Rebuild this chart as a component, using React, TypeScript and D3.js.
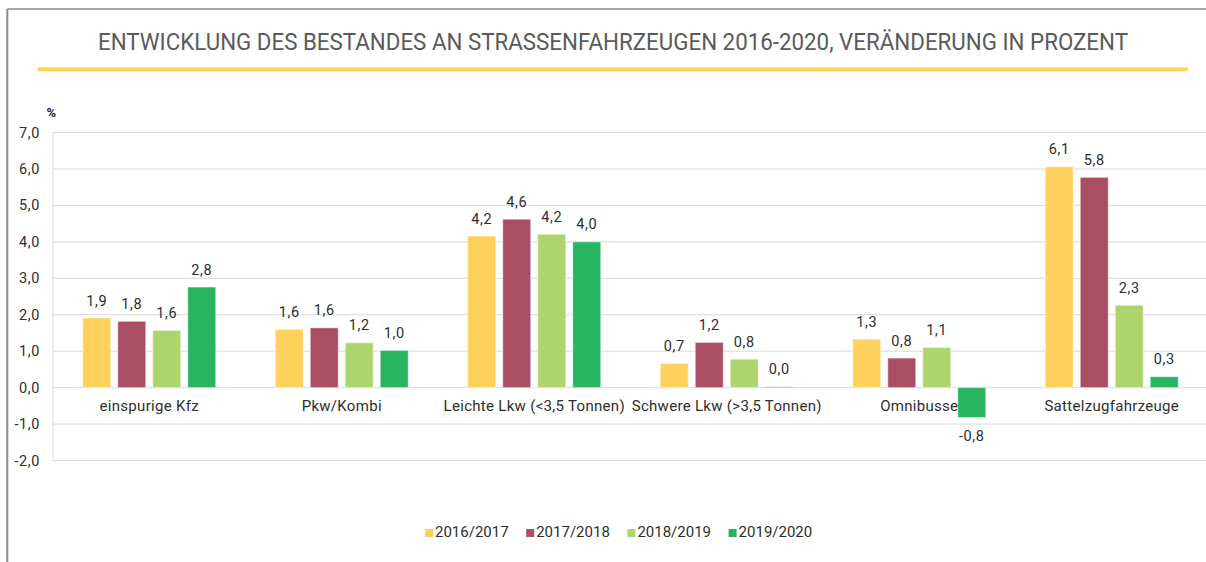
import React from "react";
import * as d3 from "d3";

const categories = [
  "einspurige Kfz",
  "Pkw/Kombi",
  "Leichte Lkw (<3,5 Tonnen)",
  "Schwere Lkw (>3,5 Tonnen)",
  "Omnibusse",
  "Sattelzugfahrzeuge",
];
const seriesNames = ["2016/2017", "2017/2018", "2018/2019", "2019/2020"];
const s2016_2017 = [1.91, 1.6, 4.16, 0.66, 1.33, 6.06];
const s2017_2018 = [1.82, 1.64, 4.62, 1.24, 0.81, 5.77];
const s2018_2019 = [1.57, 1.23, 4.21, 0.78, 1.1, 2.26];
const s2019_2020 = [2.76, 1.02, 4.0, 0.02, -0.82, 0.3];
const seriesValues = [s2016_2017, s2017_2018, s2018_2019, s2019_2020];
const colors = ["#FFD15C", "#A94E64", "#AED46D", "#28B460"];
const yTicks = [-2, -1, 0, 1, 2, 3, 4, 5, 6, 7];
const title =
  "ENTWICKLUNG DES BESTANDES AN STRASSENFAHRZEUGEN 2016-2020, VERÄNDERUNG IN PROZENT";

const W = 1206;
const H = 562;
const FONT = "Roboto, 'Liberation Sans', Arial, sans-serif";

const fmt = (v: number) => v.toFixed(1).replace(".", ",");

export default function App() {
  const x0 = d3.scaleBand<string>().domain(categories).range([53, 1208]).padding(0);
  const x1 = d3
    .scaleBand<string>()
    .domain(seriesNames)
    .range([(x0.bandwidth() - 140) / 2, (x0.bandwidth() + 140) / 2])
    .paddingInner(0.2)
    .paddingOuter(0.1);
  const y = d3.scaleLinear().domain([-2, 7]).range([460.5, 132.5]);

  return (
    <svg
      width={W}
      height={H}
      style={{ position: "absolute", left: 0, top: 0, background: "#fff" }}
      fontFamily={FONT}
    >
      <rect x={0} y={0} width={W} height={H} fill="#fff" />
      {/* frame */}
      <line x1={7.3} x2={W} y1={9} y2={9} stroke="#8a8a8a" strokeWidth={1.5} />
      <line x1={7.3} x2={7.3} y1={9} y2={H} stroke="#8a8a8a" strokeWidth={2} />

      {/* title */}
      <g transform="translate(613,49.5) scale(1,1.15)">
        <text
          x={0}
          y={0}
          textAnchor="middle"
          fontSize={21.5}
          fill="#5a5a5a"
          textLength={1030}
          lengthAdjust="spacingAndGlyphs"
        >
          {title}
        </text>
      </g>
      <rect x={37.7} y={67.3} width={1150} height={4} fill="#FDD44F" />

      {/* percent */}
      <text x={46.5} y={116.5} fontSize={13} fontWeight="bold" fill="#222">
        %
      </text>

      {/* grid */}
      {yTicks.map((t) => (
        <g key={t}>
          <line
            x1={53}
            x2={W}
            y1={y(t)}
            y2={y(t)}
            stroke="#d9d9d9"
            strokeWidth={1}
          />
          <text
            x={40}
            y={y(t) + 5}
            textAnchor="end"
            fontSize={14.5}
            letterSpacing={0.6}
            fill="#2e2e2e"
          >
            {fmt(t)}
          </text>
        </g>
      ))}
      <line x1={53} x2={53} y1={y(7)} y2={y(-2)} stroke="#d9d9d9" strokeWidth={1} />

      {/* bars */}
      {categories.map((c, ci) => (
        <g key={c} transform={`translate(${x0(c)},0)`}>
          {seriesNames.map((s, si) => {
            const v = seriesValues[si][ci];
            const top = Math.min(y(v), y(0));
            const h = Math.max(Math.abs(y(v) - y(0)), 1);
            const bx = x1(s)!;
            const cx = bx + x1.bandwidth() / 2;
            const ly = v >= 0 ? y(v) - 12.5 : y(v) + 24;
            return (
              <g key={s}>
                <rect
                  x={bx}
                  y={top}
                  width={x1.bandwidth()}
                  height={h}
                  fill={colors[si]}
                  stroke="#ffffff"
                  strokeOpacity={0.5}
                  strokeWidth={1}
                />
                <text
                  x={cx}
                  y={ly}
                  textAnchor="middle"
                  fontSize={14.5}
                  letterSpacing={0.6}
                  fill="#2e2e2e"
                >
                  {fmt(v)}
                </text>
              </g>
            );
          })}
          <text
            x={x0.bandwidth() / 2}
            y={411}
            textAnchor="middle"
            fontSize={15}
            letterSpacing={0.3}
            fill="#2e2e2e"
          >
            {c}
          </text>
        </g>
      ))}

      {/* legend */}
      {seriesNames.map((s, i) => {
        const lx = 425 + i * 101.2;
        return (
          <g key={s}>
            <rect x={lx} y={529} width={8} height={8} fill={colors[i]} />
            <text x={lx + 10} y={537} fontSize={15} fill="#2e2e2e">
              {s}
            </text>
          </g>
        );
      })}
    </svg>
  );
}
